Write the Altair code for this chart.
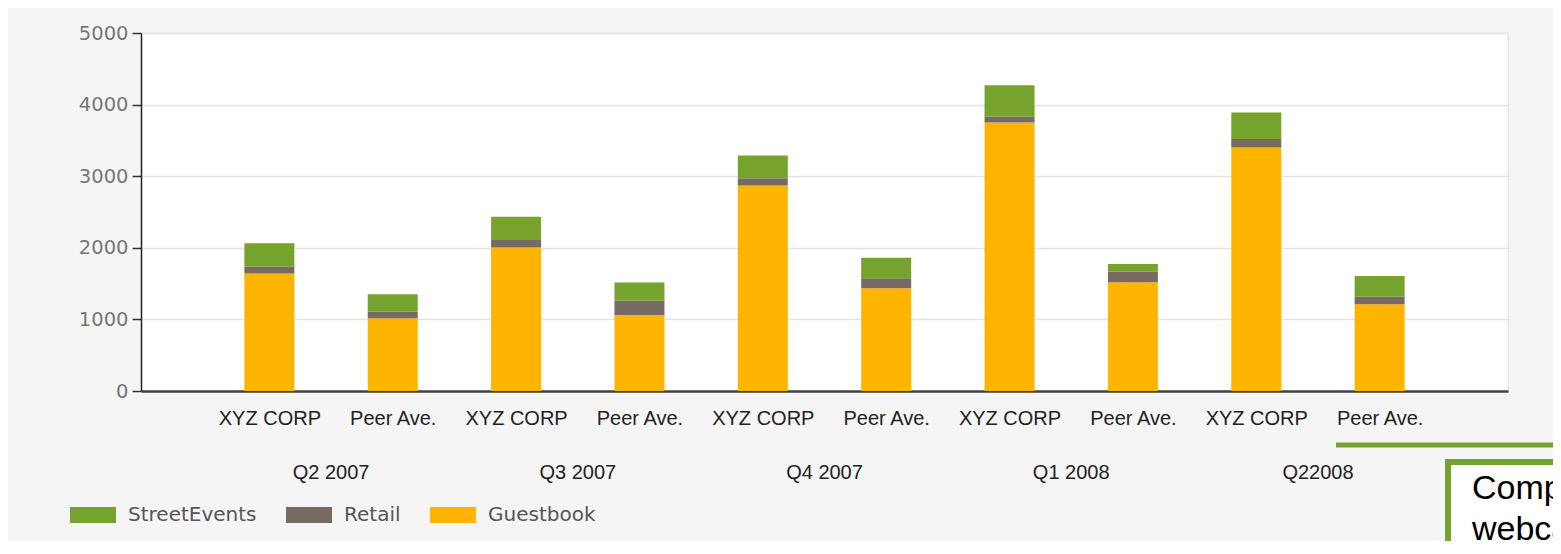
import json
import altair as alt
import pandas as pd

# ---- data ----
quarters = ["Q2 2007", "Q3 2007", "Q4 2007", "Q1 2008", "Q22008"]
groups = ["XYZ CORP", "Peer Ave."]
series_names = ["StreetEvents", "Retail", "Guestbook"]
series_colors = ["#76a32e", "#766a62", "#ffb400"]

guestbook = [1640, 1015, 2005, 1060, 2870, 1435, 3750, 1520, 3400, 1210]
retail = [95, 95, 105, 200, 100, 140, 80, 145, 120, 105]
street_events = [330, 240, 325, 255, 320, 285, 440, 110, 370, 290]

y_ticks = [0, 1000, 2000, 3000, 4000, 5000]
annotation_lines = ["Comp", "webca"]

# ---- tables ----
tick_labels = [g for q in quarters for g in groups]
rows = []
for i in range(len(tick_labels)):
    for order, (name, vals) in enumerate(
        [("Guestbook", guestbook), ("Retail", retail), ("StreetEvents", street_events)]
    ):
        rows.append({"pos": i + 1, "label": tick_labels[i], "series": name,
                     "value": vals[i], "order": order})
df = pd.DataFrame(rows)

qdf = pd.DataFrame({"quarter": quarters,
                    "mid": [2 * k + 1.5 for k in range(len(quarters))]})
ann = pd.DataFrame({"line": annotation_lines, "k": list(range(len(annotation_lines)))})
one = pd.DataFrame({"a": [0]})

xscale = alt.Scale(domain=[0, len(tick_labels) + 1], nice=False, zero=False)

bars = alt.Chart(df).mark_bar(size=50).encode(
    x=alt.X("pos:Q", scale=xscale,
            axis=alt.Axis(values=list(range(1, len(tick_labels) + 1)),
                          labelExpr=f"{json.dumps(tick_labels)}[datum.value - 1]",
                          title=None, grid=False, ticks=False,
                          labelFont="Liberation Sans", labelFontSize=20,
                          labelColor="#222222", labelPadding=17,
                          domainColor="#444444", domainWidth=2.5)),
    y=alt.Y("value:Q", stack="zero",
            scale=alt.Scale(domain=[0, 5000], nice=False),
            axis=alt.Axis(values=y_ticks, title=None, format="d",
                          labelFont="DejaVu Sans", labelFontSize=19.5,
                          labelColor="#777777", labelPadding=4,
                          tickSize=9, tickColor="#333333", tickWidth=1.5,
                          domainColor="#222222", domainWidth=1.5,
                          gridColor="#e3e3e3", gridWidth=1.5)),
    color=alt.Color("series:N",
                    scale=alt.Scale(domain=series_names, range=series_colors),
                    legend=alt.Legend(orient="none", legendX=-71, legendY=459,
                                      direction="horizontal", title=None,
                                      symbolType="M-1,-0.35L1,-0.35L1,0.35L-1,0.35Z",
                                      symbolSize=2116, symbolStrokeWidth=0,
                                      labelFont="DejaVu Sans", labelFontSize=20,
                                      labelColor="#555555", labelOffset=12,
                                      columnPadding=29, padding=0)),
    order=alt.Order("order:Q"),
)

qtext = alt.Chart(qdf).mark_text(font="Liberation Sans", fontSize=20,
                                 color="#222222", baseline="middle").encode(
    x=alt.X("mid:Q", scale=xscale),
    y=alt.value(440),
    text="quarter:N",
)

green_line = alt.Chart(one).mark_rule(color="#76a32e", strokeWidth=5).encode(
    x=alt.value(1195), x2=alt.value(1430), y=alt.value(412))

box = alt.Chart(one).mark_rect(fill="white", stroke="#76a32e", strokeWidth=6).encode(
    x=alt.value(1307), x2=alt.value(1460), y=alt.value(429), y2=alt.value(540))

ann_text = alt.Chart(ann).mark_text(font="Liberation Sans", fontSize=34, color="#000000",
                                    align="left", baseline="alphabetic").encode(
    x=alt.value(1331),
    y=alt.Y("k:Q", scale=alt.Scale(domain=[0, 1], range=[466, 507]), axis=None),
    text="line:N",
)

chart = alt.layer(bars, qtext, green_line, box, ann_text).resolve_scale(
    y="independent"
).properties(
    width=1367, height=358,
    padding={"left": 133, "top": 25, "right": 45, "bottom": 150},
    autosize=alt.AutoSizeParams(type="none"),
    background="#f5f5f5",
).configure_view(fill="white", stroke="#dddddd")

chart.save("out.html", embed_options={"renderer": "svg", "actions": False})
